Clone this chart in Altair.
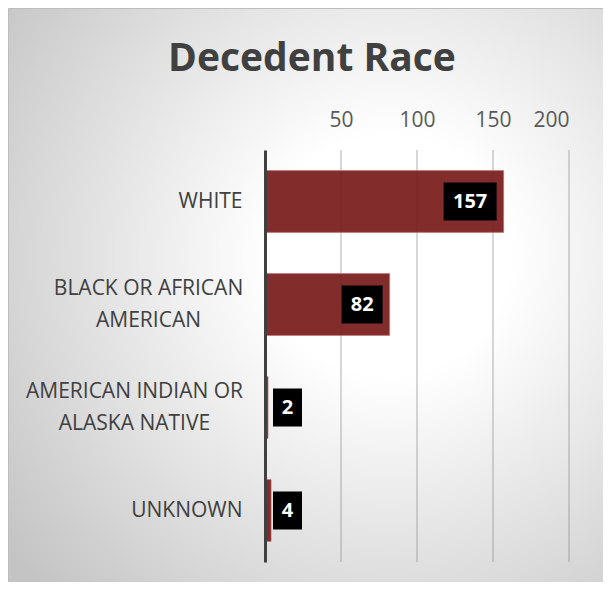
import altair as alt
import pandas as pd

# ---- data ----
categories = ["WHITE", "BLACK OR AFRICAN|AMERICAN", "AMERICAN INDIAN OR|ALASKA NATIVE", "UNKNOWN"]
values = [157, 82, 2, 4]
x_ticks = [50, 100, 150, 200]

df = pd.DataFrame({"race": categories, "count": values})
ticks_df = pd.DataFrame({"tick": x_ticks})
bg_df = pd.DataFrame({"k": [0]})

W, H = 304, 412
PX = W / 200.0  # pixels per unit
FONT = "Open Sans"
PAD_L, PAD_T = 257, 142
PAD_R = 595 - PAD_L - W
PAD_B = 574 - PAD_T - H

gradient = {
    "gradient": "radial",
    "x1": 0.62, "y1": 0.42, "r1": 0.0,
    "x2": 0.62, "y2": 0.42, "r2": 0.78,
    "stops": [
        {"offset": 0.0, "color": "#ffffff"},
        {"offset": 0.25, "color": "#ffffff"},
        {"offset": 1.0, "color": "#c4c4c4"},
    ],
}

multi = "indexof(datum.value, '|') >= 0"
label_padding = {
    "condition": [
        {"test": "indexof(datum.value, 'BLACK') >= 0", "value": 117},
        {"test": "indexof(datum.value, 'INDIAN') >= 0", "value": 131},
    ],
    "value": 23,
}

y_enc = alt.Y(
    "race:N",
    sort=categories,
    scale=alt.Scale(paddingInner=0.4, paddingOuter=0.2),
    axis=alt.Axis(
        title=None,
        labelExpr="split(datum.label, '|')",
        labelFont=FONT,
        labelFontSize=21,
        labelColor="#404040",
        labelLineHeight=32,
        labelPadding=label_padding,
        labelAlign=alt.condition(multi, alt.value("center"), alt.value("right")),
        labelLimit=300,
        labelOffset=alt.condition(multi, alt.value(-16), alt.value(0)),
        ticks=False,
        domainColor="#404040",
        domainWidth=3,
        grid=False,
        zindex=1,
    ),
)

x_scale = alt.Scale(domain=[0, 200])

bg = alt.Chart(bg_df).mark_rect(fill=gradient, stroke="#bdbdbd", strokeWidth=1).encode(
    x=alt.value(-PAD_L + 0.5), x2=alt.value(W + PAD_R + 20),
    y=alt.value(-PAD_T + 0.5), y2=alt.value(H + PAD_B + 20),
)

grid = alt.Chart(ticks_df).mark_rule(color="#8a8a8a", strokeWidth=1.5, opacity=0.45).encode(
    x=alt.X("tick:Q", scale=x_scale, title=None)
)

bars = alt.Chart(df).mark_bar(
    fill="#7a1c1c", fillOpacity=0.93, stroke="#c07070", strokeOpacity=0.6, strokeWidth=1
).encode(
    y=y_enc,
    x=alt.X(
        "count:Q",
        scale=x_scale,
        axis=alt.Axis(
            orient="top",
            values=x_ticks,
            title=None,
            grid=False,
            domain=False,
            ticks=False,
            labelFont=FONT,
            labelFontSize=21,
            labelColor="#595959",
            labelPadding=20,
            zindex=1,
        ),
    ),
)

boxes_base = alt.Chart(df).transform_calculate(
    digits="length(toString(datum.count))"
).transform_calculate(
    bw="(17 + 12 * datum.digits) / %f" % PX
).transform_calculate(
    left="max(datum.count - 7 / %f - datum.bw, 8 / %f)" % (PX, PX)
).transform_calculate(
    right="datum.left + datum.bw"
).transform_calculate(
    mid="(datum.left + datum.right) / 2"
)

boxes = boxes_base.mark_bar(height=38, color="#000000").encode(
    y=alt.Y("race:N", sort=categories),
    x=alt.X("left:Q", scale=x_scale, title=None),
    x2="right:Q",
)

labels = boxes_base.mark_text(
    color="#ffffff", font=FONT, fontSize=20, fontWeight="bold", baseline="middle", align="center"
).encode(
    y=alt.Y("race:N", sort=categories),
    x=alt.X("mid:Q", scale=x_scale, title=None),
    text="count:Q",
)

chart = alt.layer(bg, grid, bars, boxes, labels).properties(
    width=W,
    height=H,
    padding={"left": PAD_L, "top": PAD_T, "right": PAD_R, "bottom": PAD_B},
    autosize=alt.AutoSizeParams(type="none"),
    title=alt.TitleParams(
        "Decedent Race",
        font=FONT,
        fontSize=39,
        fontWeight="bold",
        color="#404040",
        anchor="middle",
        frame="group",
        dx=-105,
        offset=-71,
    ),
).configure(background="#c8c8c8").configure_view(stroke=None)

chart.save("out.html", embed_options={"renderer": "svg", "actions": False})
